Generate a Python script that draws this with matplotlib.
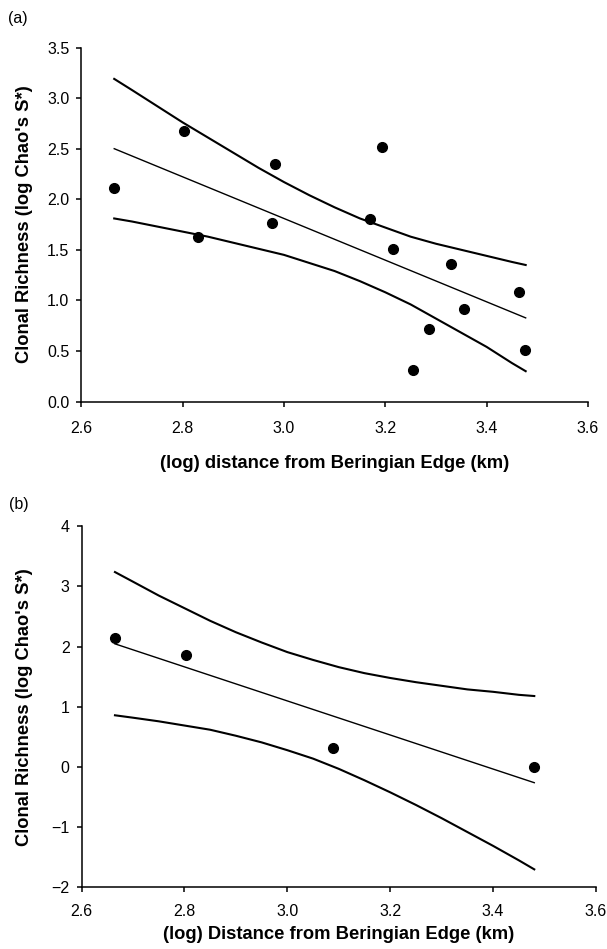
import matplotlib
matplotlib.use('Agg')
import matplotlib.pyplot as plt

plt.rcParams['font.family'] = ['Liberation Sans', 'DejaVu Sans']

# ---- panel (a) ----
a_x = [2.665, 2.803, 2.831, 2.976, 2.982, 3.170, 3.194, 3.216, 3.254, 3.287, 3.330, 3.355, 3.463, 3.476]
a_y = [2.11, 2.67, 1.63, 1.77, 2.35, 1.80, 2.52, 1.51, 0.31, 0.72, 1.36, 0.91, 1.08, 0.51]

a_fit_x = [2.665, 3.477]
a_fit_y = [2.50, 0.827]

# confidence band
a_band_x = [2.665, 2.70, 2.75, 2.80, 2.85, 2.90, 2.95, 3.00, 3.05,
            3.10, 3.15, 3.20, 3.25, 3.30, 3.35, 3.40, 3.45, 3.477]
a_upper = [3.19, 3.08, 2.92, 2.76, 2.61, 2.46, 2.31, 2.17, 2.04,
           1.92, 1.81, 1.72, 1.63, 1.56, 1.50, 1.44, 1.38, 1.35]
a_lower = [1.81, 1.78, 1.73, 1.68, 1.63, 1.57, 1.51, 1.45, 1.37,
           1.29, 1.19, 1.08, 0.96, 0.82, 0.68, 0.54, 0.38, 0.30]

# ---- panel (b) ----
b_x = [2.665, 2.804, 3.089, 3.479]
b_y = [2.15, 1.86, 0.31, 0.0]

b_fit_x = [2.665, 3.48]
b_fit_y = [2.047, -0.26]

b_band_x = [2.665, 2.70, 2.75, 2.80, 2.85, 2.90, 2.95, 3.00, 3.05,
            3.10, 3.15, 3.20, 3.25, 3.30, 3.35, 3.40, 3.45, 3.48]
b_upper = [3.24, 3.08, 2.85, 2.64, 2.43, 2.24, 2.07, 1.91, 1.78,
           1.66, 1.56, 1.48, 1.41, 1.35, 1.29, 1.25, 1.20, 1.18]
b_lower = [0.86, 0.82, 0.76, 0.69, 0.62, 0.52, 0.41, 0.28, 0.14,
           -0.03, -0.22, -0.42, -0.63, -0.85, -1.08, -1.31, -1.55, -1.70]

x_ticks = [2.6, 2.8, 3.0, 3.2, 3.4, 3.6]
a_yticks = [0.0, 0.5, 1.0, 1.5, 2.0, 2.5, 3.0, 3.5]
b_yticks = [-2, -1, 0, 1, 2, 3, 4]

fig = plt.figure(figsize=(6.07, 9.49), dpi=100)
ax1 = fig.add_axes([0.1339, 0.5769, 0.8348, 0.3730])
ax2 = fig.add_axes([0.1343, 0.0649, 0.8476, 0.3805])


def style(ax, xpad):
    for s in ['top', 'right']:
        ax.spines[s].set_visible(False)
    for s in ['left', 'bottom']:
        ax.spines[s].set_linewidth(1.1)
    ax.tick_params(direction='out', length=3.6, width=1.1, labelsize=11.5)
    ax.tick_params(axis='x', pad=xpad)
    ax.tick_params(axis='y', pad=5)


# panel (a)
ax1.plot(a_band_x, a_upper, color='black', lw=1.5)
ax1.plot(a_band_x, a_lower, color='black', lw=1.5)
ax1.plot(a_fit_x, a_fit_y, color='black', lw=1.0)
ax1.plot(a_x, a_y, 'o', color='black', ms=7, clip_on=False)
ax1.set_xlim(2.6, 3.6)
ax1.set_ylim(0, 3.5)
ax1.set_xticks(x_ticks)
ax1.set_xticklabels([f'{t:.1f}' for t in x_ticks])
ax1.set_yticks(a_yticks)
ax1.set_yticklabels([f'{t:.1f}' for t in a_yticks])
style(ax1, 10.5)
ax1.set_xlabel('(log) distance from Beringian Edge (km)', fontsize=13.2,
               fontweight='bold')
ax1.set_ylabel("Clonal Richness (log Chao's S*)", fontsize=13.2,
               fontweight='bold')
ax1.xaxis.set_label_coords(0.5, -0.151)
ax1.yaxis.set_label_coords(-0.0953, 0.5)

# panel (b)
ax2.plot(b_band_x, b_upper, color='black', lw=1.5)
ax2.plot(b_band_x, b_lower, color='black', lw=1.5)
ax2.plot(b_fit_x, b_fit_y, color='black', lw=1.0)
ax2.plot(b_x, b_y, 'o', color='black', ms=7, clip_on=False)
ax2.set_xlim(2.6, 3.6)
ax2.set_ylim(-2, 4)
ax2.set_xticks(x_ticks)
ax2.set_xticklabels([f'{t:.1f}' for t in x_ticks])
ax2.set_yticks(b_yticks)
style(ax2, 8.5)
ax2.set_xlabel('(log) Distance from Beringian Edge (km)', fontsize=13.2,
               fontweight='bold')
ax2.set_ylabel("Clonal Richness (log Chao's S*)", fontsize=13.2,
               fontweight='bold')
ax2.xaxis.set_label_coords(0.5, -0.106)
ax2.yaxis.set_label_coords(-0.0943, 0.5)

fig.text(0.013, 0.981, '(a)', fontsize=11.5, va='center', ha='left')
fig.text(0.015, 0.468, '(b)', fontsize=11.5, va='center', ha='left')

fig.savefig('out.png', dpi=100)
